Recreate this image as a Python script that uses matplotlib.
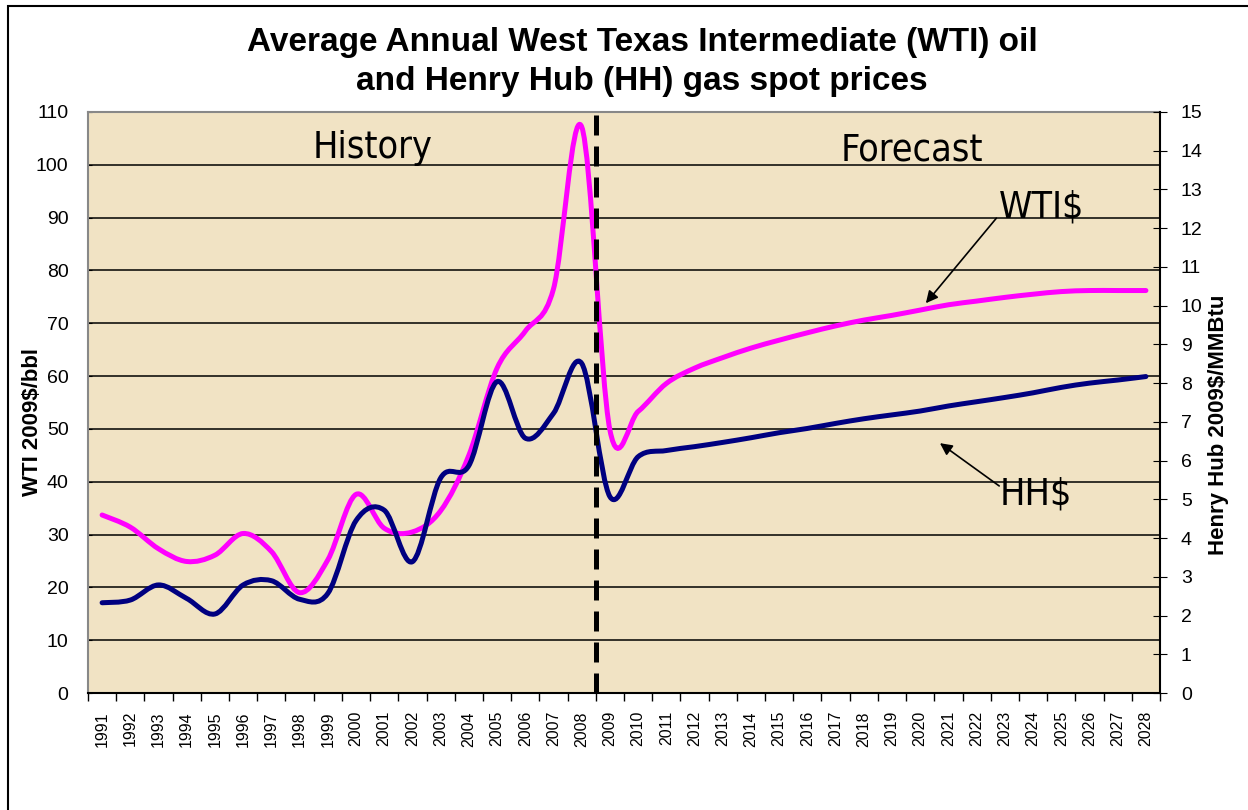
import matplotlib
matplotlib.use('Agg')
import matplotlib.pyplot as plt
import numpy as np
from matplotlib.path import Path
from matplotlib.patches import PathPatch, Rectangle

# annual averages
years = list(range(1991, 2029))
wti = [33.7, 31.4, 27.3, 24.9, 26.1, 30.2, 26.8, 19.0, 25.2, 37.6,
       31.2, 30.5, 34.5, 45.0, 61.5, 68.5, 76.5, 107.2, 49.8, 53.3,
       58.6, 61.5, 63.5, 65.3, 66.8, 68.2, 69.5, 70.6, 71.5, 72.5,
       73.5, 74.2, 74.9, 75.5, 76.0, 76.2, 76.2, 76.2]
hh = [2.33, 2.40, 2.79, 2.44, 2.04, 2.79, 2.90, 2.42, 2.57, 4.45,
      4.72, 3.39, 5.55, 5.87, 8.04, 6.58, 7.22, 8.51, 5.07, 6.10,
      6.26, 6.36, 6.47, 6.59, 6.72, 6.83, 6.96, 7.08, 7.18, 7.28,
      7.41, 7.52, 7.63, 7.75, 7.89, 8.00, 8.08, 8.17]
split_year = 2008  # last year of history

title = 'Average Annual West Texas Intermediate (WTI) oil\nand Henry Hub (HH) gas spot prices'

plt.rcParams['font.family'] = ['Liberation Sans', 'DejaVu Sans']
note_font = dict(family='DejaVu Sans', fontstretch='condensed', fontsize=27)


def smooth_path(xs, ys):
    # Excel style smoothed line: cubic bezier through every point
    pts = np.column_stack([xs, ys]).astype(float)
    n = len(pts)
    verts = [pts[0]]
    codes = [Path.MOVETO]
    for i in range(n - 1):
        p0 = pts[max(i - 1, 0)]
        p1 = pts[i]
        p2 = pts[i + 1]
        p3 = pts[min(i + 2, n - 1)]
        verts += [p1 + (p2 - p0) / 6.0, p2 - (p3 - p1) / 6.0, p2]
        codes += [Path.CURVE4] * 3
    return Path(verts, codes)


x = np.arange(len(years))

fig = plt.figure(figsize=(12.48, 8.10), dpi=100)
ax = fig.add_axes([88 / 1248, 117 / 810, 1072 / 1248, 581 / 810])
ax.set_facecolor('#F1E3C4')

ax.set_xlim(-0.5, len(years) - 0.5)
ax.set_ylim(0, 110)
ax.set_yticks(np.arange(0, 111, 10))
ax.yaxis.grid(True, color='black', linewidth=1.1)
ax.set_axisbelow(True)

ax.set_xticks(x)
ax.set_xticklabels([str(y) for y in years], rotation=90, fontsize=11.5)
ax.set_xticks(np.arange(-0.5, len(years)), minor=True)
ax.tick_params(axis='x', which='major', length=0, pad=13)
ax.tick_params(axis='x', which='minor', length=6, width=1, direction='out')
ax.tick_params(axis='y', labelsize=14, length=3, direction='in', pad=14)

for s in ['left', 'top']:
    ax.spines[s].set_color('#888888')
    ax.spines[s].set_linewidth(1.5)
ax.spines['bottom'].set_linewidth(1.5)
ax.spines['right'].set_visible(False)

ax.add_patch(PathPatch(smooth_path(x, wti), fill=False, edgecolor='#FF00FF',
                       linewidth=3.6, capstyle='round', joinstyle='round'))
ax.set_ylabel('WTI 2009$/bbl', fontsize=16, fontweight='bold')
ax.yaxis.set_label_coords(-0.042, 0.466)

ax2 = ax.twinx()
ax2.set_ylim(0, 15)
ax2.set_yticks(np.arange(0, 16, 1))
ax2.tick_params(axis='y', labelsize=14, length=10, direction='inout', pad=10)
ax2.spines['right'].set_linewidth(1.5)
for s in ['left', 'top', 'bottom']:
    ax2.spines[s].set_visible(False)
ax2.patch.set_visible(False)
ax2.add_patch(PathPatch(smooth_path(x, hh), fill=False, edgecolor='#000080',
                        linewidth=3.6, capstyle='round', joinstyle='round'))
ax2.set_ylabel('Henry Hub 2009$/MMBtu', fontsize=16, fontweight='bold',
               rotation=90, va='top')
ax2.yaxis.set_label_coords(1.045, 0.461)

# history / forecast split
split = years.index(split_year) + 0.5
ax2.axvline(split, color='black', linewidth=3.6, linestyle=(0, (4, 2.2)), zorder=5)

ax.text(9.6, 103.2, 'History', ha='center', va='center', **note_font)
ax.text(28.7, 102.8, 'Forecast', ha='center', va='center', **note_font)
ax.text(33.3, 92.0, 'WTI$', ha='center', va='center', **note_font)
ax.text(33.1, 37.5, 'HH$', ha='center', va='center', **note_font)
arrow = dict(arrowstyle='-|>', color='black', lw=1.2, mutation_scale=18,
             shrinkA=0, shrinkB=0)
ax.annotate('', xy=(29.2, 73.8), xytext=(31.7, 89.9), arrowprops=arrow)
ax.annotate('', xy=(29.7, 47.3), xytext=(31.8, 39.2), arrowprops=arrow)

fig.text(642 / 1248, 1 - 62 / 810, title, fontsize=24, fontweight='bold',
         ha='center', va='center', linespacing=1.33)

# outer chart frame
fig.add_artist(Rectangle((8 / 1248, -0.1), 1.2, 1.1 - 6 / 810,
                         transform=fig.transFigure, fill=False,
                         edgecolor='black', linewidth=1.5))

fig.savefig('out.png', dpi=100)
